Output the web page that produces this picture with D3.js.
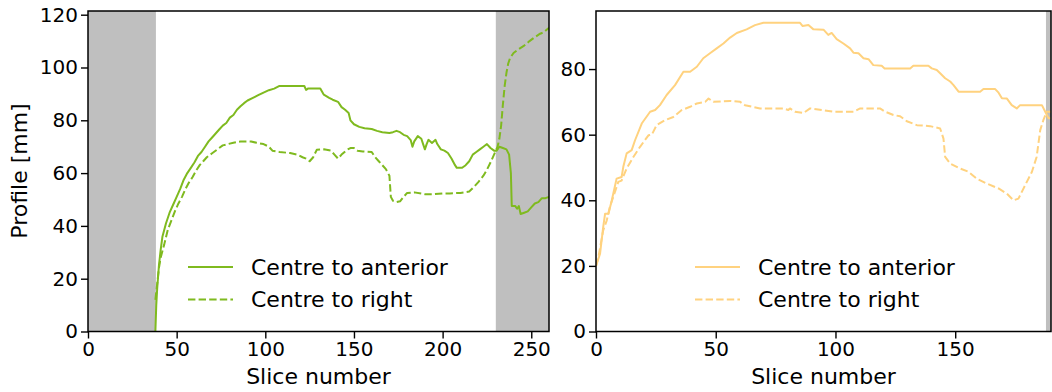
<!DOCTYPE html>
<html><head><meta charset="utf-8">
<script src="https://cdn.jsdelivr.net/npm/d3@7"></script>
<style>body{margin:0;background:#fff}svg{display:block}text{font-family:"DejaVu Sans",sans-serif;fill:#000}</style>
</head><body><svg id="c" width="1052" height="392"></svg>
<script>
// ---- data ----
const leftAntX = [38,38.5,39,40,41,42,44,46,48,50,52,54,56,58,60,62,64,66,68,70,72,74,76,78,80,82,84,86,88,90,93,96,99,102,105,108,122,123,124,131,133,136,138,141,143,145,147,148,150,153,156,160,163,166,170,172,174,176,178,180,182,183,184,186,188,189,190,191,192,194,196,197,199,201,203,205,207,208,211,213,215,217,219,221,223,225,227,229,230.5,232,234,236,237.5,238.5,239,241,242,243,244,246,248,250,252,254,256,258,260];
const leftAntY = [0,10,16,25,31,36,41,45,48,51,54,57.5,60,62,64,66.5,68,70,72,73.5,75,76.5,78,79,81,82,84,85.3,86.5,87.5,88.5,89.5,90.5,91.4,92,93,93,91.5,92,92,89.7,88.5,87.8,87,85,84,82.8,80,78.5,77.5,77,76.7,76,75.5,75.2,75.5,76,75.5,74.5,74,72.5,70,72,74,73,71,69,71,72.6,71.4,72.6,71,69,68.5,67.6,65.5,63,62,62,63,64.5,67,68,69,70,71,69.5,68.5,68.5,70,69.5,69,67,60,47.5,47.5,46.5,47.5,44.5,45,45.5,47,48.5,49,50.5,50.5,51];
const leftRightX = [38,39,40,41,43,45,47,49,51,53,55,57,59,61,63,65,67,70,73,76,79,82,86,92,95,99,102,104,108,114,118,121,123,125,127,129,133,137,139,141,143,146,148,150,152,155,160,162,164,166,168,170,170.8,172,174,176,178,180,184,190,195,200,204,210,215,218,220,223,225,227,229,231,232,233,234,235,236,237,238,240,243,246,249,252,255,257,259,260];
const leftRightY = [12,18,24,28,33,38.5,42,45.5,48.5,51,54,56.5,58.5,61,63,64.5,66,67.5,69,70.5,71,71.5,72,72,71.5,71,70,68.5,68,67.6,67,66,65.5,64.5,66,68.8,69,68.5,67,65.5,67,68.8,69.5,69.5,68.5,68.2,68,66,64.5,63,61.5,59,51,49.5,49,49.3,51,52.5,52.7,52,52,52.3,52.3,52.5,53,55,56.5,59,61.3,64,67,70,73,78,86,93,98,101.5,103.5,105.5,107,108.3,110,111.5,112.8,113.3,114.5,115];
const rightAntX = [0,1.7,3,3.8,5.2,6.6,8.6,10.7,11.4,12.8,14.9,16.3,19.1,22.6,24.7,26.7,29.5,33,36.5,39.3,42.1,44.8,47.6,50.4,53.2,56,58.8,62.9,66.4,69.9,85.2,86.3,88.7,90.8,95,97,98.4,100.5,103.3,106.1,107.5,109.6,111.7,113.8,115.8,119.3,120.5,131.2,132.5,138.8,140.2,142.3,143.7,145.8,147.9,149.3,151.4,160.4,161.8,166.7,168.1,169.5,171.6,173.6,175.7,177.1,186.2,187.6,189,190];
const rightAntY = [20,23.7,31.8,35.9,35.9,40,46.6,47.1,50.2,54.3,55.3,58.3,63.4,67,67.5,69,72.1,75.1,79.2,79.2,80.7,83.3,84.8,86.3,87.8,89.6,91,92.1,93.4,94.1,94.1,93.1,93.4,92.1,92,90.4,91,89.1,87.8,86.3,85,84.8,83.3,83,81.2,81,80.2,80.2,81,81,80.2,79.7,78.7,77.2,76.2,75.1,73.1,73.1,73.9,73.9,72.8,71.1,71,69,68,69,69,67,65,65];
const rightRightX = [0,1,3,4.5,5.8,7.2,9.3,10.7,12.8,15.6,18.4,21.9,23.3,25.3,28.8,32.3,35.8,39.3,42.1,45.6,47,49,56,60.2,62.2,68.5,78.2,80.3,81,83.1,86.6,89.4,99.1,107.5,110.3,118.6,120.7,124.2,127,129.8,134,139.5,143.7,145.1,145.8,147.9,152,155.5,159,163.2,168.1,171.6,174.3,176.4,179.2,182,184,185.5,186.8,188.2,190];
const rightRightY = [20,22.7,30.8,33.9,38,41,45.6,46,49.7,53.2,56.3,59.8,60,62.9,64.4,65.4,67.5,68.5,69.5,70,71,70,70.3,70,69,68,68,67.5,68,67,66.6,68,67,67,68,68,67,66,65.6,64.1,62.9,62.6,61.9,58.8,53.2,51.2,49.7,48.7,46.6,45.1,43.6,42,40,40.5,44.6,48.6,53.2,61.4,64.4,67,67];
const leftBands = [[0,38.3],[230,260]];
const rightBands = [[187.9,190]];
const leftXTicks = [0,50,100,150,200,250];
const leftYTicks = [0,20,40,60,80,100,120];
const rightXTicks = [0,50,100,150];
const rightYTicks = [0,20,40,60,80];
const seriesLabels = ["Centre to anterior","Centre to right"];
const xLabel = "Slice number", yLabel = "Profile [mm]";

const green = "#7fba1f", orange = "#ffd27f", band = "#bfbfbf";
const svg = d3.select("#c");
const plotTop = 11, plotBottom = 331.5;

function panel(opts){
  const x = d3.scaleLinear().domain(opts.xdom).range(opts.xr);
  const y = d3.scaleLinear().domain(opts.ydom).range([plotBottom, plotTop]);
  const g = svg.append("g");
  g.selectAll("rect.band").data(opts.bands).enter().append("rect")
    .attr("x", d=>x(d[0])).attr("width", d=>x(d[1])-x(d[0]))
    .attr("y", plotTop).attr("height", plotBottom-plotTop).attr("fill", band);
  const clipId = "clip"+opts.id;
  svg.append("clipPath").attr("id", clipId).append("rect")
    .attr("x", opts.xr[0]).attr("y", plotTop).attr("width", opts.xr[1]-opts.xr[0]).attr("height", plotBottom-plotTop);
  const line = d3.line().x(d=>x(d[0])).y(d=>y(d[1]));
  const sers = [
    {xs: opts.antX, ys: opts.antY, dash: null},
    {xs: opts.rX, ys: opts.rY, dash: "7.4,3.2"}
  ];
  sers.forEach(s=>{
    const pts = s.xs.map((v,i)=>[v, s.ys[i]]);
    g.append("path").attr("d", line(pts)).attr("fill","none")
      .attr("stroke", opts.color).attr("stroke-width", 2)
      .attr("stroke-dasharray", s.dash).attr("stroke-linejoin","round")
      .attr("clip-path", `url(#${clipId})`);
  });
  const ax = g.append("g").attr("transform", `translate(0,${plotBottom})`)
    .call(d3.axisBottom(x).tickValues(opts.xticks).tickSize(7).tickPadding(3).tickFormat(d3.format("d")));
  const ay = g.append("g").attr("transform", `translate(${opts.xr[0]},0)`)
    .call(d3.axisLeft(y).tickValues(opts.yticks).tickSize(7).tickPadding(3).tickFormat(d3.format("d")));
  [ax, ay].forEach(a=>{
    a.select(".domain").remove();
    a.selectAll(".tick line").attr("stroke","#000").attr("stroke-width",1.4);
    a.selectAll(".tick text").style("font-size","20px").attr("fill","#000");
  });
  g.append("rect").attr("x", opts.xr[0]).attr("y", plotTop)
    .attr("width", opts.xr[1]-opts.xr[0]).attr("height", plotBottom-plotTop)
    .attr("fill","none").attr("stroke","#000").attr("stroke-width",1.5);
  g.append("text").attr("x", (opts.xr[0]+opts.xr[1])/2).attr("y", 384)
    .attr("text-anchor","middle").style("font-size","22px").text(xLabel);
  const lg = g.append("g");
  seriesLabels.forEach((t,i)=>{
    const yy = 267 + i*32.5;
    lg.append("line").attr("x1", opts.legX).attr("x2", opts.legX+45).attr("y1", yy).attr("y2", yy)
      .attr("stroke", opts.color).attr("stroke-width", 2).attr("stroke-dasharray", i ? "7.4,3.2" : null);
    lg.append("text").attr("x", opts.legX+63).attr("y", yy).attr("dy","0.35em")
      .style("font-size","22px").text(t);
  });
  return g;
}

panel({id:"L", xdom:[0,260], xr:[88,549], ydom:[0,121.4], bands:leftBands,
  antX:leftAntX, antY:leftAntY, rX:leftRightX, rY:leftRightY, color:green,
  xticks:leftXTicks, yticks:leftYTicks, legX:188});
panel({id:"R", xdom:[0,190], xr:[596,1051], ydom:[0,97.7], bands:rightBands,
  antX:rightAntX, antY:rightAntY, rX:rightRightX, rY:rightRightY, color:orange,
  xticks:rightXTicks, yticks:rightYTicks, legX:695});

svg.append("text").attr("transform","translate(27,171) rotate(-90)")
  .attr("text-anchor","middle").style("font-size","22px").text(yLabel);
</script></body></html>
